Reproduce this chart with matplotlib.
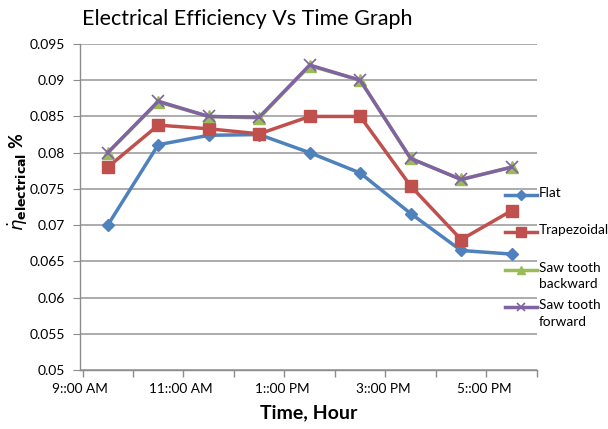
import numpy as np
import matplotlib.pyplot as plt
from matplotlib.lines import Line2D

plt.rcParams['font.family'] = ['Lato', 'DejaVu Sans']

times = ["9:00", "10:00", "11:00", "12:00", "1:00", "2:00", "3:00", "4:00", "5:00"]
tick_labels = ["9::00 AM", "11::00 AM", "1::00 PM", "3::00 PM", "5::00 PM"]
flat = [0.070, 0.0811, 0.0824, 0.0825, 0.0800, 0.0772, 0.0716, 0.0665, 0.0660]
trapezoidal = [0.0780, 0.0838, 0.0833, 0.0826, 0.0850, 0.0850, 0.0754, 0.0680, 0.0720]
saw_backward = [0.0800, 0.0870, 0.0850, 0.0848, 0.0920, 0.0900, 0.0792, 0.0763, 0.0780]
saw_forward = [0.0800, 0.0871, 0.0850, 0.0849, 0.0921, 0.0900, 0.0792, 0.0763, 0.0780]
labels = ["Flat", "Trapezoidal", "Saw tooth\nbackward", "Saw tooth\nforward"]

x = np.arange(len(times))

fig = plt.figure(figsize=(6.08, 4.29), dpi=100)
ax = fig.add_axes([0.1316, 0.1375, 0.7514, 0.7599])

styles = [
    dict(color="#4F81BD", marker="D", ms=6),
    dict(color="#C0504D", marker="s", ms=9),
    dict(color="#9BBB59", marker="^", ms=8),
    dict(color="#8064A2", marker="x", ms=8, mew=1.2),
]
for ys, st in zip([flat, trapezoidal, saw_backward, saw_forward], styles):
    ax.plot(x, ys, lw=2.5, **st)

ax.set_xlim(-0.5, 8.5)
ax.set_ylim(0.05, 0.095)
ax.set_yticks(np.arange(0.05, 0.0951, 0.005))
ax.set_yticklabels(["0.05", "0.055", "0.06", "0.065", "0.07", "0.075", "0.08", "0.085", "0.09", "0.095"])
ax.yaxis.grid(True, color="#A6A6A6", lw=1.3)
ax.set_axisbelow(True)

# tick marks between categories, labels on every second category
ax.set_xticks(np.arange(-0.5, 8.6, 1.0), minor=True)
ax.set_xticks(x[::2] - 0.55)
ax.set_xticklabels(tick_labels)
ax.tick_params(axis="x", which="major", length=0, pad=9, labelsize=9.8)
ax.tick_params(axis="x", which="minor", length=5, color="#8C8C8C", width=1)
ax.tick_params(axis="y", length=5, color="#8C8C8C", labelsize=10, pad=6)

for s in ["top", "right"]:
    ax.spines[s].set_visible(False)
for s in ["left", "bottom"]:
    ax.spines[s].set_color("#8C8C8C")
    ax.spines[s].set_linewidth(1)

ax.set_xlabel("Time, Hour", fontsize=14, fontweight="bold", labelpad=7)
fig.text(0.03, 0.576, r"$\dot{\eta}_{\mathbf{electrical}}$ %", rotation=90,
         fontsize=13, fontweight="bold", ha="center", va="center")

fig.text(82 / 608, 1 - 19 / 429, "Electrical Efficiency Vs Time Graph", fontsize=15.5,
         ha="left", va="center")

# legend drawn by hand so the handle sits on the first text line
x0, x1, xt = 505 / 608, 537 / 608, 539 / 608
for lab, st, ypix in zip(labels, styles, [195, 232, 270, 307]):
    yf = 1 - ypix / 429
    fig.add_artist(Line2D([x0, x1], [yf, yf], transform=fig.transFigure,
                          color=st["color"], lw=2.5))
    small = dict(st, ms=st["ms"] * 0.8)
    fig.add_artist(Line2D([(x0 + x1) / 2], [yf], transform=fig.transFigure, lw=0, **small))
    fig.text(xt, yf + 8 / 429, lab, fontsize=9.8, ha="left", va="top", linespacing=1.45)

fig.savefig("out.png", dpi=100)
